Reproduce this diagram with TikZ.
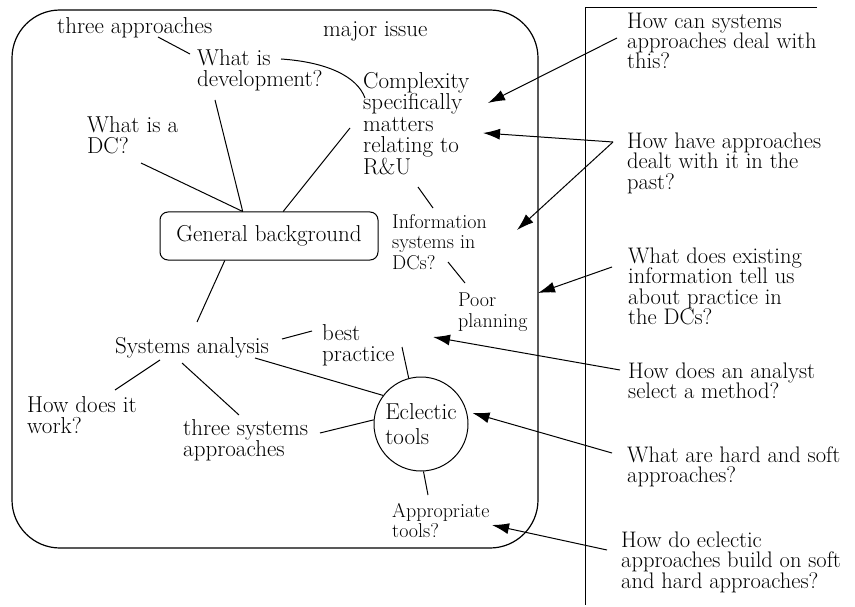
\documentclass[tikz,border=0pt]{standalone}
\usepackage{amsmath}
\usepackage{xcolor}
\usetikzlibrary{arrows.meta, positioning, calc}

\begin{document}
\begin{tikzpicture}[x=1pt, y=-1pt,
  txt/.style={font=\fontsize{23}{21.5}\selectfont, align=left, inner sep=0pt, anchor=north west},
  sml/.style={font=\fontsize{20}{20.5}\selectfont, align=left, inner sep=0pt, anchor=north west},
  ask/.style={font=\fontsize{22.5}{20.4}\selectfont, align=left, inner sep=0pt, anchor=north west},
  link/.style={line width=1pt},
  pointer/.style={line width=1pt, -{Latex[length=17pt, width=11pt]}}]
\useasboundingbox (0,0) rectangle (855,607);
% frame of the topic map and the column rule
\draw[line width=1.2pt, rounded corners=48pt] (12,10) rectangle (538,548);
\draw[line width=1pt] (817,8) -- (585,8) -- (585,605);
% topic map
\node[txt] (three) at (57,17) {three approaches};
\node[txt] (major) at (323,21) {major issue};
\node[txt] (whatdev) at (197,49) {What is\\development?};
\node[txt] (cplx) at (363,72) {Complexity\\specifically\\matters\\relating to\\R\&U};
\node[txt] (dc) at (87,116) {What is a\\DC?};
\node[draw, line width=1pt, rounded corners=8pt, minimum width=218pt, minimum height=48pt,
  font=\fontsize{23}{21.5}\selectfont] (gb) at (269,236) {General background};
\node[sml] (info) at (392,214.1) {Information\\systems in\\DCs?};
\node[sml] (poor) at (458,293.1) {Poor\\planning};
\node[txt] (sysan) at (115,337) {Systems analysis};
\node[txt] (best) at (322,324) {best\\practice};
\node[txt] (howit) at (27,396) {How does it\\work?};
\node[txt] (threesys) at (183,419) {three systems\\approaches};
\node[draw, circle, line width=1pt, minimum size=94pt, inner sep=0pt, align=left,
  font=\fontsize{23}{25}\selectfont] (ecl) at (421,424) {Eclectic\\tools};
\node[sml] (appr) at (392,503.1) {Appropriate\\tools?};
% links
\draw[link] ($(three.north west)+(101,20)$) -- ($(whatdev.north west)+(-7,5)$);
\draw[link] ($(whatdev.north west)+(84,10)$) .. controls +(45,3) and +(-8,-22) .. ($(cplx.north west)+(2,26)$);
\draw[link] ($(whatdev.north west)+(18,51)$) -- (gb.137);
\draw[link] ($(dc.north west)+(54,47)$) -- (gb.137);
\draw[link] ($(cplx.north west)+(-13,56)$) -- (gb.60);
\draw[link] ($(cplx.north west)+(55,115)$) -- ($(info.north west)+(41,-6.1)$);
\draw[link] ($(info.north west)+(56,47.9)$) -- ($(poor.north west)+(7,-10.1)$);
\draw[link] (gb.-151) -- ($(sysan.north west)+(82,-15)$);
\draw[link] ($(sysan.north west)+(167,2)$) -- ($(best.north west)+(-10,7)$);
\draw[link] ($(sysan.north west)+(140,21)$) -- (ecl.143);
\draw[link] ($(sysan.north west)+(45,23)$) -- ($(howit.north west)+(88,-6)$);
\draw[link] ($(sysan.north west)+(67,26)$) -- ($(threesys.north west)+(56,-4)$);
\draw[link] ($(threesys.north west)+(137,14)$) -- (ecl.175);
\draw[link] ($(best.north west)+(80,23)$) -- (ecl.105);
\draw[link] (ecl.-87) -- ($(appr.north west)+(36,-8.1)$);
% questions
\node[ask] (qsys) at (627,12.5) {How can systems\\approaches deal with\\this?};
\node[ask] (qpast) at (627,132.5) {How have approaches\\dealt with it in the\\past?};
\node[ask] (qinfo) at (628,247.5) {What does existing\\information tell us\\about practice in\\the DCs?};
\node[ask] (qanal) at (628,362.5) {How does an analyst\\select a method?};
\node[ask] (qhard) at (627,446.5) {What are hard and soft\\approaches?};
\node[ask] (qecl) at (621,531.5) {How do eclectic\\approaches build on soft\\and hard approaches?};
% arrows to the map
\draw[pointer] ($(qsys.north west)+(-10,25.5)$) -- ($(cplx.north west)+(125,31)$);
\draw[pointer] ($(qpast.north west)+(-14,9.5)$) -- ($(cplx.north west)+(120,61)$);
\draw[pointer] ($(qpast.north west)+(-14,9.5)$) -- ($(info.north west)+(125,15.9)$);
\draw[pointer] ($(qinfo.north west)+(-16,19.5)$) -- ($(poor.north west)+(80,-0.1)$);
\draw[pointer] ($(qanal.north west)+(-8,7.5)$) -- ($(best.north west)+(111,13)$);
\draw[pointer] ($(qhard.north west)+(-15,6.5)$) -- ($(ecl.east)+(4,-11)$);
\draw[pointer] ($(qecl.north west)+(-14,18.5)$) -- ($(appr.north west)+(100,21.9)$);
\end{tikzpicture}
\end{document}
